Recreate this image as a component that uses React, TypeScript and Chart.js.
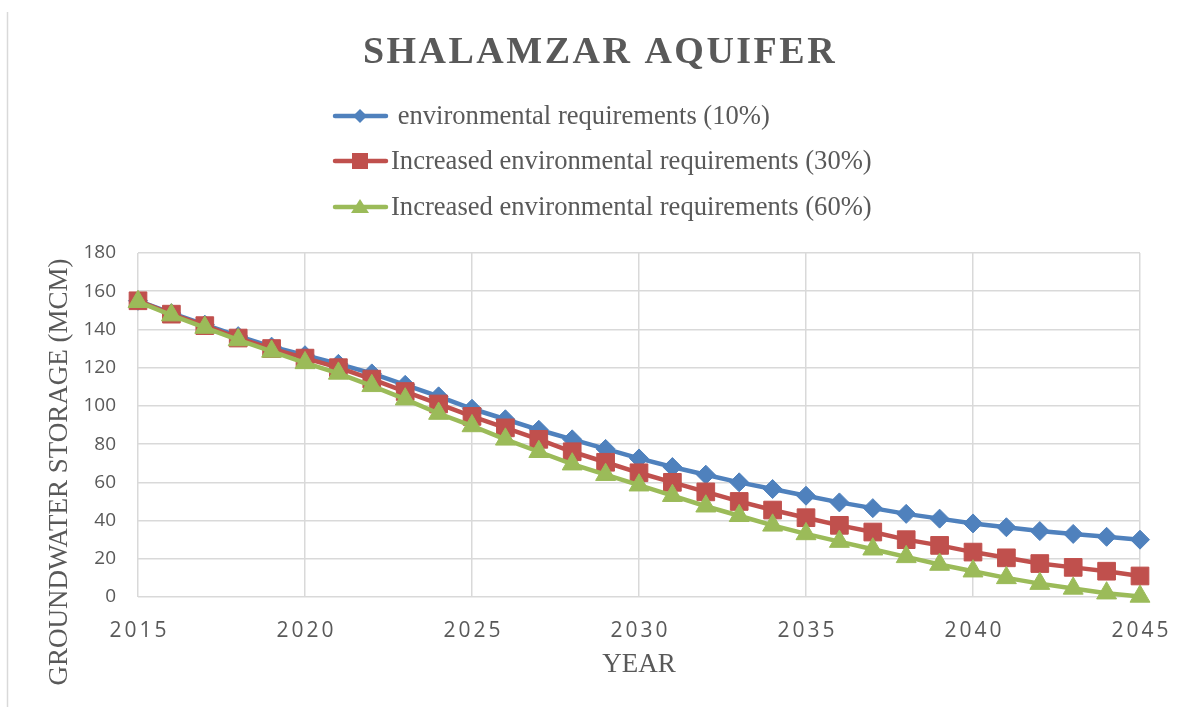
import React, { useEffect, useRef } from "react";
import { Chart, registerables } from "chart.js";

Chart.register(...registerables);

const TITLE = "SHALAMZAR AQUIFER";
const X_TITLE = "YEAR";
const Y_TITLE = "GROUNDWATER STORAGE (MCM)";

const YEARS = [
  2015, 2016, 2017, 2018, 2019, 2020, 2021, 2022, 2023, 2024, 2025, 2026, 2027, 2028, 2029, 2030,
  2031, 2032, 2033, 2034, 2035, 2036, 2037, 2038, 2039, 2040, 2041, 2042, 2043, 2044, 2045,
];
const X_TICKS = [2015, 2020, 2025, 2030, 2035, 2040, 2045];

const LABELS = [
  " environmental requirements (10%)",
  "Increased environmental requirements (30%)",
  "Increased environmental requirements (60%)",
];

const ENV_10 = [
  155, 148.5, 142.5, 136.5, 131, 126.5, 122, 117, 111, 105, 98.5, 93, 87.5, 82.5, 77.5, 72.5, 68,
  64, 60, 56.5, 53, 49.5, 46.5, 43.5, 41, 38.5, 36.5, 34.5, 33, 31.5, 30,
];
const ENV_30 = [
  155, 148, 142, 135.5, 130, 125, 120, 114, 107.5, 101, 94.5, 88.5, 82.5, 76, 70.5, 65, 60, 55, 50,
  45.5, 41.5, 37.5, 34, 30, 27, 23.5, 20.5, 17.5, 15.5, 13.5, 11,
];
const ENV_60 = [
  154.5, 147.5, 141, 134.5, 128.5, 122.5, 117, 110.5, 103.5, 96, 89.5, 82.5, 76, 69.5, 64, 58.5,
  53, 47.5, 42.5, 37.5, 33, 29, 25, 21, 17, 13.5, 10, 7, 4.5, 2, 0.3,
];

const COLORS = ["#4F81BD", "#C0504D", "#9BBB59"];
const TEXT = "#595959";
const GRID = "#D9D9D9";

const overlay = {
  id: "overlay",
  afterDraw(chart: any) {
    const ctx = chart.ctx as CanvasRenderingContext2D;
    ctx.save();
    // chart frame left edge
    ctx.strokeStyle = GRID;
    ctx.lineWidth = 1.5;
    ctx.beginPath();
    ctx.moveTo(7.5, 12);
    ctx.lineTo(7.5, 707);
    ctx.stroke();

    // title
    ctx.fillStyle = TEXT;
    ctx.textAlign = "center";
    ctx.textBaseline = "middle";
    (ctx as any).letterSpacing = "2.5px";
    ctx.font = 'bold 38px "Liberation Serif"';
    ctx.fillText(TITLE, 600, 53);

    // legend
    (ctx as any).letterSpacing = "0px";
    const rows = [116, 161, 207];
    rows.forEach((ry, i) => {
      const c = COLORS[i];
      ctx.strokeStyle = c;
      ctx.lineWidth = 4.5;
      ctx.lineCap = "round";
      ctx.beginPath();
      ctx.moveTo(335, ry);
      ctx.lineTo(386, ry);
      ctx.stroke();
      ctx.fillStyle = c;
      ctx.beginPath();
      if (i === 0) {
        ctx.moveTo(360, ry - 7);
        ctx.lineTo(367, ry);
        ctx.lineTo(360, ry + 7);
        ctx.lineTo(353, ry);
        ctx.closePath();
      } else if (i === 1) {
        ctx.rect(352, ry - 8, 16, 16);
      } else {
        ctx.moveTo(360, ry - 8);
        ctx.lineTo(369, ry + 6);
        ctx.lineTo(351, ry + 6);
        ctx.closePath();
      }
      ctx.fill();
      ctx.fillStyle = TEXT;
      ctx.textAlign = "left";
      ctx.font = '26.6px "Liberation Serif"';
      ctx.fillText(LABELS[i], 391, ry + 1);
    });

    // x tick labels (letter spaced)
    const xs = chart.scales.x;
    ctx.font = '21px "Open Sans"';
    ctx.textAlign = "center";
    (ctx as any).letterSpacing = "3px";
    X_TICKS.forEach((v) => {
      ctx.fillText(String(v), xs.getPixelForValue(v) + 1.5, 631);
    });
    (ctx as any).letterSpacing = "0px";

    // axis titles
    ctx.font = '27px "Liberation Serif"';
    ctx.fillText(X_TITLE, 639, 665);
    ctx.translate(60, 472);
    ctx.rotate(-Math.PI / 2);
    ctx.fillText(Y_TITLE, 0, 0);
    ctx.restore();
  },
};

export default function App() {
  const ref = useRef<HTMLCanvasElement | null>(null);
  useEffect(() => {
    if (!ref.current) return;
    const mk = (vals: number[]) => YEARS.map((y, i) => ({ x: y, y: vals[i] }));
    const chart = new Chart(ref.current, {
      type: "line",
      data: {
        datasets: [
          {
            label: LABELS[0],
            data: mk(ENV_10),
            borderColor: COLORS[0],
            backgroundColor: COLORS[0],
            borderWidth: 4.5,
            pointStyle: "rectRot",
            pointRadius: 9.5,
            pointBorderWidth: 1,
            order: 2,
            clip: false,
          },
          {
            label: LABELS[1],
            data: mk(ENV_30),
            borderColor: COLORS[1],
            backgroundColor: COLORS[1],
            borderWidth: 4.5,
            pointStyle: "rect",
            pointRadius: 12.5,
            pointBorderWidth: 1,
            order: 1,
            clip: false,
          },
          {
            label: LABELS[2],
            data: mk(ENV_60),
            borderColor: COLORS[2],
            backgroundColor: COLORS[2],
            borderWidth: 4.5,
            pointStyle: "triangle",
            pointRadius: 11.5,
            pointBorderWidth: 1,
            order: 0,
            clip: false,
          },
        ],
      },
      options: {
        responsive: false,
        animation: false,
        layout: { padding: { top: 253, right: 46, left: 0, bottom: 0 } },
        plugins: { legend: { display: false }, title: { display: false }, tooltip: { enabled: false } },
        scales: {
          x: {
            type: "linear",
            min: 2015,
            max: 2045,
            ticks: { display: false, stepSize: 5 },
            grid: { color: GRID, lineWidth: 1.5, drawTicks: false },
            border: { display: false },
            afterFit: (s: any) => {
              s.height = 110;
            },
          },
          y: {
            min: 0,
            max: 180,
            ticks: {
              stepSize: 20,
              padding: 22,
              color: TEXT,
              font: { family: "Open Sans", size: 19 },
            },
            grid: { color: GRID, lineWidth: 1.5, drawTicks: false },
            border: { display: false },
            afterFit: (s: any) => {
              s.width = 138;
            },
          },
        },
      },
      plugins: [overlay],
    });
    return () => chart.destroy();
  }, []);
  return (
    <div style={{ position: "absolute", left: 0, top: 0, width: 1186, height: 707, background: "#fff" }}>
      <canvas ref={ref} width={1186} height={707} />
    </div>
  );
}
